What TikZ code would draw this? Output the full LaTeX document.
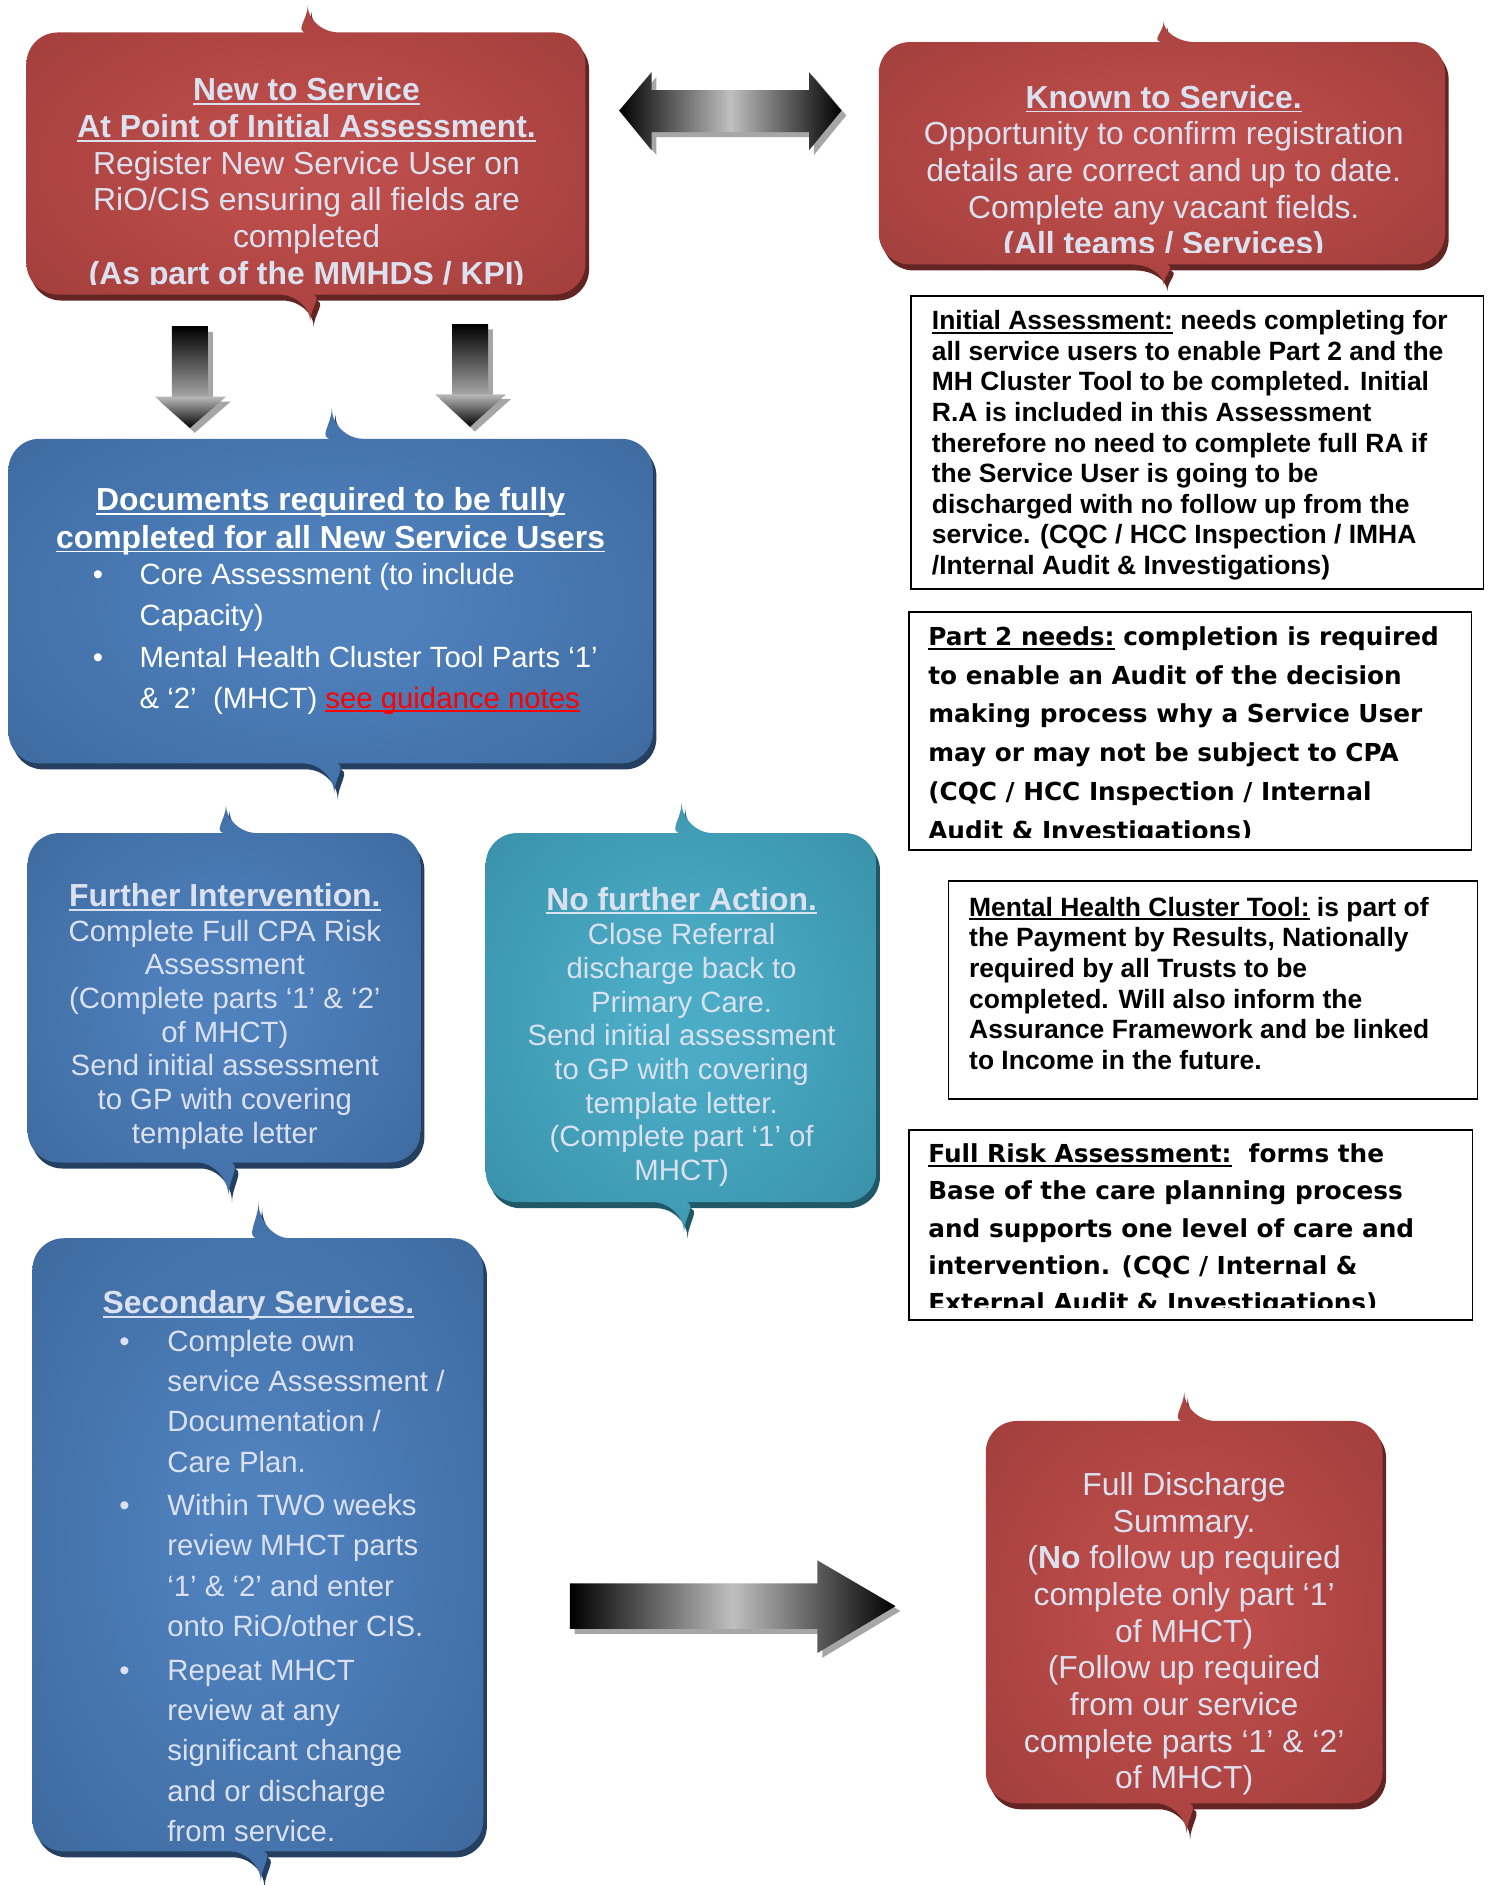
\documentclass[tikz,border=0pt]{standalone}
\usepackage{fontspec}
\setmainfont{Liberation Sans}
\newfontfamily\dvfont{DejaVu Sans}
\newcommand{\myul}[1]{\setbox0=\hbox{#1}\makebox[0pt][l]{\rule[-3.5pt]{\wd0}{1.5pt}}\box0\relax}
\definecolor{redout}{HTML}{953735}
\definecolor{redin}{HTML}{BE4E4B}
\definecolor{redsh}{HTML}{632523}
\definecolor{blueout}{HTML}{365F91}
\definecolor{bluein}{HTML}{4F81BD}
\definecolor{bluesh}{HTML}{243F60}
\definecolor{tealout}{HTML}{31859C}
\definecolor{tealin}{HTML}{4BACC6}
\definecolor{tealsh}{HTML}{215868}
\definecolor{lav}{HTML}{DCE1F0}
\pgfdeclareradialshading{redglow}{\pgfpoint{0bp}{0bp}}{color(0bp)=(redin); color(6bp)=(redin); color(46bp)=(redout); color(80bp)=(redout)}
\pgfdeclareradialshading{blueglow}{\pgfpoint{0bp}{0bp}}{color(0bp)=(bluein); color(6bp)=(bluein); color(46bp)=(blueout); color(80bp)=(blueout)}
\pgfdeclareradialshading{tealglow}{\pgfpoint{0bp}{0bp}}{color(0bp)=(tealin); color(6bp)=(tealin); color(46bp)=(tealout); color(80bp)=(tealout)}
% l t r b ctop cbot htop hbot prefix
\newcommand{\callout}[9]{%
  \fill[#9sh, xshift=3pt, yshift=-5pt] (#5+26,#2) [rounded corners=26pt] -- (#3,#2) -- (#3,#4) -- (#6+26,#4) [sharp corners]
    .. controls (#6+12,#4) and (#6,#4+#8*0.5) .. (#6,#4+#8)
    .. controls (#6,#4+#8*0.5) and (#6-12,#4) .. (#6-26,#4)
    [rounded corners=26pt] -- (#1,#4) -- (#1,#2) -- (#5-26,#2) [sharp corners]
    .. controls (#5-12,#2) and (#5,#2-#7*0.5) .. (#5,#2-#7)
    .. controls (#5,#2-#7*0.5) and (#5+12,#2) .. (#5+26,#2) -- cycle;
  \shade[shading=#9glow] (#5+26,#2) [rounded corners=26pt] -- (#3,#2) -- (#3,#4) -- (#6+26,#4) [sharp corners]
    .. controls (#6+12,#4) and (#6,#4+#8*0.5) .. (#6,#4+#8)
    .. controls (#6,#4+#8*0.5) and (#6-12,#4) .. (#6-26,#4)
    [rounded corners=26pt] -- (#1,#4) -- (#1,#2) -- (#5-26,#2) [sharp corners]
    .. controls (#5-12,#2) and (#5,#2-#7*0.5) .. (#5,#2-#7)
    .. controls (#5,#2-#7*0.5) and (#5+12,#2) .. (#5+26,#2) -- cycle;
}
\newcommand{\bul}[1]{\makebox[#1][l]{\textbullet}}
\begin{document}
\begin{tikzpicture}[x=1pt,y=-1pt,
  boxtxt/.style={inner sep=0pt, align=center, text=lav},
  bigf/.style={font=\fontsize{26.5}{30.5}\selectfont},
  medf/.style={font=\fontsize{24.4}{28}\selectfont},
  notebox/.style={draw=black, line width=1.3pt},
  notetxt/.style={inner sep=0pt, align=left, text=black},
  arialnote/.style={font=\fontsize{22}{25.5}\selectfont\bfseries},
  dvnote/.style={font=\dvfont\fontsize{20.6}{32.2}\selectfont\bfseries},
  arrowshadow/.style={fill=black!35, xshift=4pt, yshift=-4pt}]
\useasboundingbox (0,0) rectangle (1239,1568);
\fill[white] (0,0) rectangle (1239,1568);

% ---------- callout boxes ----------
\callout{22}{27}{487}{245}{256}{258}{22}{22}{red}
\callout{731}{35}{1202}{220}{968}{968}{17}{17}{red}
\callout{7}{365}{543}{635}{276}{278}{25}{25}{blue}
\callout{23}{693}{350}{967}{188}{190}{23}{28}{blue}
\callout{404}{693}{729}{1000}{567}{569}{25}{25}{teal}
\callout{27}{1030}{402}{1540}{215}{217}{30}{25}{blue}
\callout{820}{1182}{1150}{1500}{985}{987}{24}{25}{red}

% ---------- block arrows ----------
% double arrow
\fill[arrowshadow] (515,92) -- (542,60) -- (542,75) -- (673,75) -- (673,60) -- (700,92)
  -- (673,125) -- (673,110) -- (542,110) -- (542,125) -- cycle;
\shade[left color=black, right color=black, middle color=gray!50]
  (515,92) -- (542,60) -- (542,75) -- (673,75) -- (673,60) -- (700,92)
  -- (673,125) -- (673,110) -- (542,110) -- (542,125) -- cycle;
% down arrows
\fill[arrowshadow] (143,272) -- (173,272) -- (173,330) -- (188,330) -- (158,356) -- (129,330) -- (143,330) -- cycle;
\shade[top color=black, bottom color=gray!70] (143,272) rectangle (173,330);
\shade[top color=gray!55, bottom color=black] (129,330) -- (188,330) -- (158,356) -- cycle;
\fill[arrowshadow] (376,270) -- (406,270) -- (406,328) -- (421,328) -- (391,355) -- (362,328) -- (376,328) -- cycle;
\shade[top color=black, bottom color=gray!70] (376,270) rectangle (406,328);
\shade[top color=gray!55, bottom color=black] (362,328) -- (421,328) -- (391,355) -- cycle;
% right arrow
\fill[arrowshadow] (474,1317) -- (680,1317) -- (680,1298) -- (745,1336) -- (680,1375) -- (680,1355) -- (474,1355) -- cycle;
\shade[left color=black, right color=black, middle color=gray!50]
  (474,1317) -- (680,1317) -- (680,1298) -- (745,1336) -- (680,1375) -- (680,1355) -- (474,1355) -- cycle;

% ---------- texts in callouts (anchor = baseline of last line) ----------
\begin{scope}
\clip (0,0) rectangle (600,237);
\node[boxtxt, bigf, anchor=base] (newsvc) at (255,236.5)
  {\textbf{\myul{New to Service}}\\ \textbf{\myul{At Point of Initial Assessment.}}\\
   Register New Service User on\\ RiO/CIS ensuring all fields are\\ completed\\
   \textbf{(As part of the MMHDS / KPI)}};
\end{scope}
\begin{scope}
\clip (700,0) rectangle (1239,210);
\node[boxtxt, bigf, anchor=base] (known) at (968,212)
  {\textbf{\myul{Known to Service.}}\\ Opportunity to confirm registration\\
   details are correct and up to date.\\ Complete any vacant fields.\\
   \textbf{(All teams / Services)}};
\end{scope}

\node[boxtxt, text=white, anchor=base, font=\fontsize{26.5}{31}\selectfont\bfseries] (docs) at (275,456)
  {\myul{Documents required to be fully}\\ \myul{completed for all New Service Users}};
\node[boxtxt, text=white, align=left, anchor=base west, font=\fontsize{24.4}{34}\selectfont] (docslist) at (77,589)
  {\bul{39pt}Core Assessment (to include\\ \hspace*{39pt}Capacity)\\[1pt]
   \bul{39pt}Mental Health Cluster Tool Parts ‘1’\\
   \hspace*{39pt}\&\ ‘2’\ \ (MHCT) \textcolor{red}{\myul{see guidance notes}}};

\node[boxtxt, bigf, anchor=base] (furtherT) at (187,754) {\textbf{\myul{Further Intervention.}}};
\node[boxtxt, medf, anchor=base] (further) at (187,951)
  {Complete Full CPA Risk\\ Assessment\\ (Complete parts ‘1’ \& ‘2’\\ of MHCT)\\
   Send initial assessment\\ to GP with covering\\ template letter};

\node[boxtxt, bigf, anchor=base] (nofurtherT) at (567,757) {\textbf{\myul{No further Action.}}};
\node[boxtxt, medf, anchor=base] (nofurther) at (567,982)
  {Close Referral\\ discharge back to\\ Primary Care.\\ Send initial assessment\\
   to GP with covering\\ template letter.\\ (Complete part ‘1’ of\\ MHCT)};

\node[boxtxt, bigf, anchor=base] (secT) at (215,1093) {\textbf{\myul{Secondary Services.}}};
\node[boxtxt, align=left, anchor=base west, font=\fontsize{24.4}{33.6}\selectfont] (sec) at (99,1532)
  {\bul{40pt}Complete own\\ \hspace*{40pt}service Assessment /\\ \hspace*{40pt}Documentation /\\
   \hspace*{40pt}Care Plan.\\[2.5pt]
   \bul{40pt}Within TWO weeks\\ \hspace*{40pt}review MHCT parts\\ \hspace*{40pt}‘1’ \&\ ‘2’ and enter\\
   \hspace*{40pt}onto RiO/other CIS.\\[2.5pt]
   \bul{40pt}Repeat MHCT\\ \hspace*{40pt}review at any\\ \hspace*{40pt}significant change\\
   \hspace*{40pt}and or discharge\\ \hspace*{40pt}from service.};

\node[boxtxt, bigf, anchor=base] (disch) at (985,1488)
  {Full Discharge\\ Summary.\\ (\textbf{No} follow up required\\ complete only part ‘1’\\ of MHCT)\\
   (Follow up required\\ from our service\\ complete parts ‘1’ \& ‘2’\\ of MHCT)};

% ---------- note boxes ----------
\draw[notebox] (758,246) rectangle (1234,490);
\begin{scope}
\clip (758,246) rectangle (1234,482);
\node[notetxt, arialnote, anchor=base west] (initass) at (775,478)
  {\myul{Initial Assessment:} needs completing for\\ all service users to enable Part 2 and the\\
   MH Cluster Tool to be completed. Initial\\ R.A is included in this Assessment\\
   therefore no need to complete full RA if\\ the Service User is going to be\\
   discharged with no follow up from the\\ service. (CQC / HCC Inspection / IMHA\\
   /Internal Audit \& Investigations)};
\end{scope}

\draw[notebox] (756,509) rectangle (1224,707);
\begin{scope}
\clip (756,509) rectangle (1224,697);
\node[notetxt, dvnote, anchor=base west] (part2) at (772,698)
  {\myul{Part 2 needs:} completion is required\\ to enable an Audit of the decision\\
   making process why a Service User\\ may or may not be subject to CPA\\
   (CQC / HCC Inspection / Internal\\ Audit \& Investigations)};
\end{scope}

\draw[notebox] (789,733) rectangle (1229,914);
\node[notetxt, arialnote, anchor=base west] (mhct) at (806,889.5)
  {\myul{Mental Health Cluster Tool:} is part of\\ the Payment by Results, Nationally\\
   required by all Trusts to be\\ completed. Will also inform the\\
   Assurance Framework and be linked\\ to Income in the future.};

\draw[notebox] (756,940) rectangle (1225,1098);
\begin{scope}
\clip (756,940) rectangle (1225,1088);
\node[notetxt, dvnote, font=\dvfont\fontsize{20.6}{31}\selectfont\bfseries, anchor=base west] (fullra) at (772,1091)
  {\myul{Full Risk Assessment:}\ \ forms the\\ Base of the care planning process\\
   and supports one level of care and\\ intervention. (CQC / Internal \&\\
   External Audit \& Investigations)};
\end{scope}
\end{tikzpicture}
\end{document}
